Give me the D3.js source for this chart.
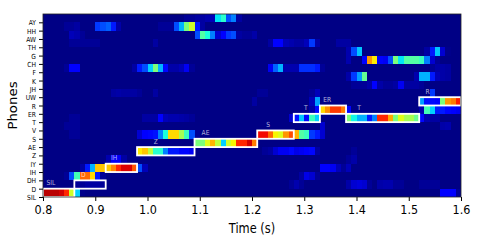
<!DOCTYPE html>
<html>
<head>
<meta charset="utf-8">
<script src="https://cdn.jsdelivr.net/npm/d3@7"></script>
<style>
html, body { margin: 0; background: #fff; }
svg { display: block; }
text { font-family: "DejaVu Sans", sans-serif; }
</style>
</head>
<body>
<svg width="479" height="245"></svg>
<script>
const phones = ["SIL","D","DH","IH","IY","Z","AE","S","V","T","ER","R","UW","JH","K","F","CH","G","TH","AW","HH","AY"];
const xTicks = [0.8,0.9,1.0,1.1,1.2,1.3,1.4,1.5,1.6];

// each row: runs of [first frame, probabilities...], frames are 10 ms, everything else is background
const rowSIL = [[0,.95,.95,.95,.93,.87,.6,.33,.01],[76,.11,.12,.12,.02]];
const rowD = [[6,.02,.02,.03,.03,.03,.02],[47,.02,.04,.02],[58,.035,.07,.08,.07,.02],[64,.035,.04,.04,.02,.02],[72,.02,.02,.02,.02]];
const rowDH = [[4,.02,.2,.43,.8,.8,.68,.15,.02],[49,.03,.09,.07,.02]];
const rowIH = [[7,.03,.15,.3,.7,.7,.7,.77,.87,.92,.92,.82,.2,.05],[53,.12,.12,.1,.05,.02,.05]];
const rowIY = [[12,.04,.1,.1,.03],[58,.02,.035]];
const rowZ = [[18,.66,.7,.58,.4,.4,.25,.15,.15,.13,.13,.1],[42,.02,.03,.07,.1,.1,.13,.09,.1,.11,.13,.03],[59,.02]];
const rowAE = [[29,.5,.5,.62,.72,.58,.33,.6,.65,.87,.87,.93,.78]];
const rowS = [[5,.02,.02],[18,.07,.12,.13,.14,.25,.38,.68,.68,.55,.42,.2,.02],[41,.9,.9,.8,.65,.62,.75,.83,.72,.45,.42,.18,.15,.07]];
const rowV = [[4,.02,.02,.02],[53,.07],[76,.035,.04]];
const rowT = [[5,.02,.02],[19,.03,.03,.03,.12,.05,.04,.04,.035,.03,.02],[47,.07,.14,.32,.13,.42,.33],[58,.5,.37,.3,.3,.15,.25,.87,.87,.73,.5,.62,.55,.55,.48,.13,.04,.03,.03]];
const rowER = [[51,.03,.13,.68,.76,.85,.85,.78,.13],[72,.04,.43,.33,.15,.15,.13,.12,.1]];
const rowR = [[40,.03],[51,.05,.28],[72,.28,.14,.13,.12,.5,.75,.78,.88]];
const rowUW = [[13,.03,.035,.03,.03,.03,.02],[21,.03],[41,.02,.02],[51,.02,.05],[74,.18]];
const rowJH = [[59,.02,.02,.02,.035,.12,.035,.02,.02,.03,.1,.03,.03,.03,.02]];
const rowK = [[58,.035,.18,.28,.47],[71,.04,.3,.3,.15,.05,.035,.03]];
const rowF = [[4,.02,.12,.12],[17,.03,.15,.2,.33,.5,.3,.13,.035,.035,.05,.1,.02],[43,.1,.22,.3,.04,.04,.04,.17,.17,.17,.15,.02],[74,.02,.035,.035,.03]];
const rowCH = [[58,.04],[61,.12,.75,.66,.12,.1,.2,.5,.35,.45,.45,.45,.42,.25,.07,.02]];
const rowG = [[58,.04,.2,.32],[73,.03,.15,.32,.07,.01]];
const rowTH = [[5,.02,.02,.02,.02,.02,.02],[21,.03],[43,.03,.12,.12,.05,.04,.03,.03,.05,.18,.035],[56,.03,.03,.03]];
const rowAW = [[5,.05,.04,.02],[29,.2,.45,.38,.25,.07,.12,.18,.2,.03,.02,.02,.035]];
const rowHH = [[4,.02,.02,.03],[10,.18,.2,.22,.15,.035],[22,.02,.02,.02,.2,.3,.5,.6,.15,.03]];
const rowAY = [[27,.02,.02,.03,.03,.04,.05,.35,.4,.2,.25,.03]];
const rows = [rowSIL,rowD,rowDH,rowIH,rowIY,rowZ,rowAE,rowS,rowV,rowT,rowER,rowR,rowUW,rowJH,rowK,rowF,rowCH,rowG,rowTH,rowAW,rowHH,rowAY];

const segLabels = ["SIL","D","IH","Z","AE","S","T","ER","T","R"];
const segRows = [0,1,3,5,6,7,9,10,9,11];
const segStart = [0.80,0.86,0.92,0.98,1.09,1.21,1.28,1.33,1.38,1.52];
const segEnd = [0.86,0.92,0.98,1.09,1.21,1.28,1.33,1.38,1.52,1.60];
const segLabelTime = [0.815,0.877,0.936,1.016,1.111,1.231,1.303,1.344,1.405,1.536];

const background = 0.005;
const frames = 80;
const frameLen = 0.01;
const stretch = 1.17; // the picture's text is taller than it is wide

let svg = d3.select("svg");

let x = d3.scaleLinear().domain([0.8,1.6]).range([43,461]);
let y = d3.scaleLinear().domain([0,22]).range([197,14]);

// jet, matplotlib's segments
let jetR = d3.scaleLinear().domain([0,.35,.66,.89,1]).range([0,0,1,1,.5]);
let jetG = d3.scaleLinear().domain([0,.125,.375,.64,.91,1]).range([0,0,1,1,0,0]);
let jetB = d3.scaleLinear().domain([0,.11,.34,.65,1]).range([.5,1,1,0,0]);
let jet = v => d3.rgb(jetR(v)*255, jetG(v)*255, jetB(v)*255).formatHex();

let cells = [];
rows.forEach((runs, r) => {
	let values = new Array(frames).fill(background);
	runs.forEach(run => run.slice(1).forEach((v, i) => { values[run[0]+i] = v; }));
	values.forEach((v, c) => cells.push({r: r, c: c, v: v}));
});

svg.append("g").attr("class", "cells")
	.selectAll("rect")
	.data(cells)
	.enter().append("rect")
	.attr("x", d => x(0.8 + d.c*frameLen))
	.attr("y", d => y(d.r+1))
	.attr("width", d => x(0.8 + (d.c+1)*frameLen) - x(0.8 + d.c*frameLen))
	.attr("height", d => y(d.r) - y(d.r+1))
	.attr("fill", d => jet(d.v))
	.attr("shape-rendering", "crispEdges");

// alignment boxes
svg.append("g").attr("class", "boxes")
	.selectAll("rect")
	.data(segLabels)
	.enter().append("rect")
	.attr("x", (d,i) => x(segStart[i]))
	.attr("y", (d,i) => y(segRows[i]+1))
	.attr("width", (d,i) => x(segEnd[i]) - x(segStart[i]))
	.attr("height", (d,i) => y(segRows[i]) - y(segRows[i]+1))
	.attr("fill", "none")
	.attr("stroke", "#fff")
	.attr("stroke-width", 1.8);

svg.append("g").attr("class", "seg-labels")
	.selectAll("text")
	.data(segLabels)
	.enter().append("text")
	.attr("transform", (d,i) => "translate(" + x(segLabelTime[i]) + "," + (y(segRows[i]+1.72)+2.5) + ") scale(1," + stretch + ")")
	.attr("text-anchor", "middle")
	.attr("fill", "#fff")
	.attr("fill-opacity", 0.7)
	.style("font-size", "6px")
	.text(d => d);

let xAxis = d3.axisBottom(x).tickValues(xTicks).tickSize(4).tickFormat(d3.format(".1f"));
let yAxis = d3.axisLeft(y).tickValues(d3.range(phones.length)).tickSize(4).tickFormat(i => phones[i]);

let gx = svg.append("g").attr("transform", "translate(0,197)").call(xAxis);
gx.selectAll("text")
	.attr("y", 0).attr("dy", 0)
	.attr("transform", "translate(0,17.3) scale(1," + stretch + ")")
	.style("font-size", "11.2px").attr("fill", "#000");
gx.select(".domain").remove();

let gy = svg.append("g").attr("transform", "translate(43,0)").call(yAxis);
gy.selectAll("text")
	.attr("x", 0).attr("dy", 0)
	.attr("transform", "translate(-7,2.5) scale(1," + stretch + ")")
	.style("font-size", "6px").attr("fill", "#000");
gy.select(".domain").remove();

svg.append("rect")
	.attr("x", x(0.8)).attr("y", y(22))
	.attr("width", x(1.6)-x(0.8)).attr("height", y(0)-y(22))
	.attr("fill", "none").attr("stroke", "#222").attr("stroke-width", 0.8);

svg.append("text")
	.attr("transform", "translate(252,233.3) scale(1," + stretch + ")")
	.attr("text-anchor", "middle")
	.style("font-size", "11.4px")
	.text("Time (s)");

svg.append("text")
	.attr("transform", "translate(17,105.5) scale(1," + stretch + ") rotate(-90)")
	.attr("text-anchor", "middle")
	.style("font-size", "11.4px")
	.text("Phones");
</script>
</body>
</html>
